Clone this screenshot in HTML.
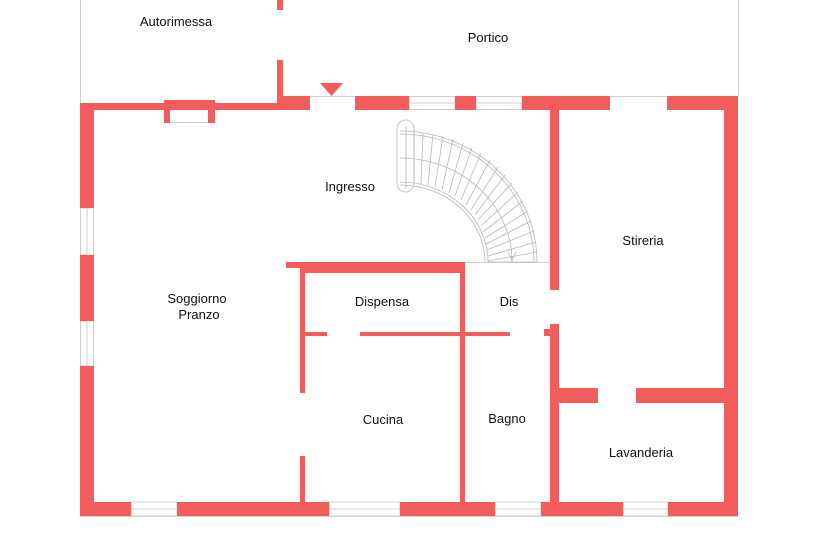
<!DOCTYPE html>
<html><head><meta charset="utf-8"><style>
html,body{margin:0;padding:0;background:#fff;}
svg{display:block}
text{font-family:"Liberation Sans",sans-serif;font-size:13px;fill:#111;text-anchor:middle}
</style></head><body>
<svg width="818" height="540" viewBox="0 0 818 540" xmlns="http://www.w3.org/2000/svg">
<g stroke="#d0d0d0" stroke-width="1" fill="none">
<line x1="80.5" y1="0" x2="80.5" y2="103"/>
<line x1="738.5" y1="0" x2="738.5" y2="96"/>
<line x1="310" y1="96.5" x2="667" y2="96.5"/>
<line x1="465" y1="262.5" x2="550" y2="262.5"/>
<line x1="80" y1="516.5" x2="738" y2="516.5"/>
<!-- windows -->
<rect x="409" y="96.5" width="46" height="13"/><line x1="409" y1="103" x2="455" y2="103"/>
<rect x="476" y="96.5" width="46" height="13"/><line x1="476" y1="103" x2="522" y2="103"/>
<rect x="80.5" y="208" width="13" height="47"/><line x1="87" y1="208" x2="87" y2="255"/>
<rect x="80.5" y="321" width="13" height="45"/><line x1="87" y1="321" x2="87" y2="366"/>
<rect x="131" y="502" width="46" height="14"/><line x1="131" y1="509" x2="177" y2="509"/>
<rect x="329" y="502" width="71" height="14"/><line x1="329" y1="509" x2="400" y2="509"/>
<rect x="495" y="502" width="46" height="14"/><line x1="495" y1="509" x2="541" y2="509"/>
<rect x="623" y="502" width="45" height="14"/><line x1="623" y1="509" x2="668" y2="509"/>
<line x1="170" y1="122.5" x2="208" y2="122.5"/>
</g>
<g fill="#f25c5c">
<rect x="277" y="0" width="6" height="10"/>
<rect x="277" y="60" width="6" height="45"/>
<rect x="80" y="103" width="203" height="7"/>
<rect x="277" y="96" width="33" height="14"/>
<rect x="355" y="96" width="54" height="14"/>
<rect x="455" y="96" width="21" height="14"/>
<rect x="522" y="96" width="88" height="14"/>
<rect x="667" y="96" width="71" height="14"/>
<polygon points="320,83 343,83 331.5,96"/>
<!-- chimney -->
<rect x="164" y="100" width="51" height="6"/>
<rect x="164" y="100" width="6" height="23"/>
<rect x="208" y="100" width="7" height="23"/>
<!-- outer walls -->
<rect x="80" y="103" width="14" height="105"/>
<rect x="80" y="255" width="14" height="66"/>
<rect x="80" y="366" width="14" height="150"/>
<rect x="724" y="96" width="14" height="420"/>
<rect x="80" y="502" width="51" height="14"/>
<rect x="177" y="502" width="152" height="14"/>
<rect x="400" y="502" width="95" height="14"/>
<rect x="541" y="502" width="82" height="14"/>
<rect x="668" y="502" width="70" height="14"/>
<!-- stair/right wall -->
<rect x="550" y="110" width="9" height="180"/>
<rect x="550" y="324" width="9" height="178"/>
<rect x="544" y="329" width="7" height="7"/>
<!-- lavanderia wall -->
<rect x="559" y="388" width="39" height="15"/>
<rect x="636" y="388" width="88" height="15"/>
<!-- inner walls -->
<rect x="286" y="262" width="179" height="6"/>
<rect x="300" y="262" width="165" height="11"/>
<rect x="300" y="262" width="5" height="131"/>
<rect x="300" y="456" width="5" height="46"/>
<rect x="460" y="262" width="5" height="240"/>
<rect x="305" y="332" width="22" height="4"/>
<rect x="360" y="332" width="150" height="4"/>
</g>
<!-- stair -->
<g stroke="#b8b8b8" stroke-width="0.8" fill="none">
<rect x="397" y="120" width="17" height="72" rx="8.5"/>
<path d="M400 131 A137 131 0 0 1 537 262"/>
<path d="M400 134 A134 128 0 0 1 534 262"/>
<path d="M400 182 A88 80 0 0 1 488 262"/>
<path d="M400 185 A85 77 0 0 1 485 262"/>
<path d="M400 158 A112 104 0 0 1 512 262"/>
<line x1="406" y1="126" x2="406" y2="188"/>
<g id="treads">
<line x1="414" y1="132" x2="414" y2="183"/>
<line x1="423" y1="132.5" x2="421" y2="184"/>
<line x1="433" y1="134" x2="428" y2="185"/>
<line x1="443" y1="136" x2="435" y2="187"/>
<line x1="453" y1="139" x2="442" y2="190"/>
<line x1="463" y1="143" x2="449" y2="193"/>
<line x1="472" y1="148" x2="455" y2="196"/>
<line x1="481" y1="153" x2="461" y2="200"/>
<line x1="490" y1="160" x2="466" y2="205"/>
<line x1="498" y1="167" x2="471" y2="210"/>
<line x1="505" y1="175" x2="475" y2="215"/>
<line x1="512" y1="183" x2="478" y2="220"/>
<line x1="518" y1="192" x2="481" y2="226"/>
<line x1="523" y1="201" x2="483" y2="232"/>
<line x1="528" y1="211" x2="485" y2="238"/>
<line x1="531" y1="221" x2="486" y2="244"/>
<line x1="534" y1="231" x2="487" y2="250"/>
<line x1="536" y1="242" x2="488" y2="256"/>
<line x1="537" y1="252" x2="488" y2="261"/>
</g>
<line x1="488" y1="262" x2="537" y2="262"/>
<path d="M508 252 L512 260 L516 252"/>
</g>
<text x="176" y="26">Autorimessa</text>
<text x="488" y="42">Portico</text>
<text x="350" y="191">Ingresso</text>
<text x="643" y="245">Stireria</text>
<text x="197" y="303">Soggiorno</text>
<text x="199" y="319">Pranzo</text>
<text x="382" y="306">Dispensa</text>
<text x="509" y="306">Dis</text>
<text x="383" y="424">Cucina</text>
<text x="507" y="423">Bagno</text>
<text x="641" y="457">Lavanderia</text>
</svg>
</body></html>
